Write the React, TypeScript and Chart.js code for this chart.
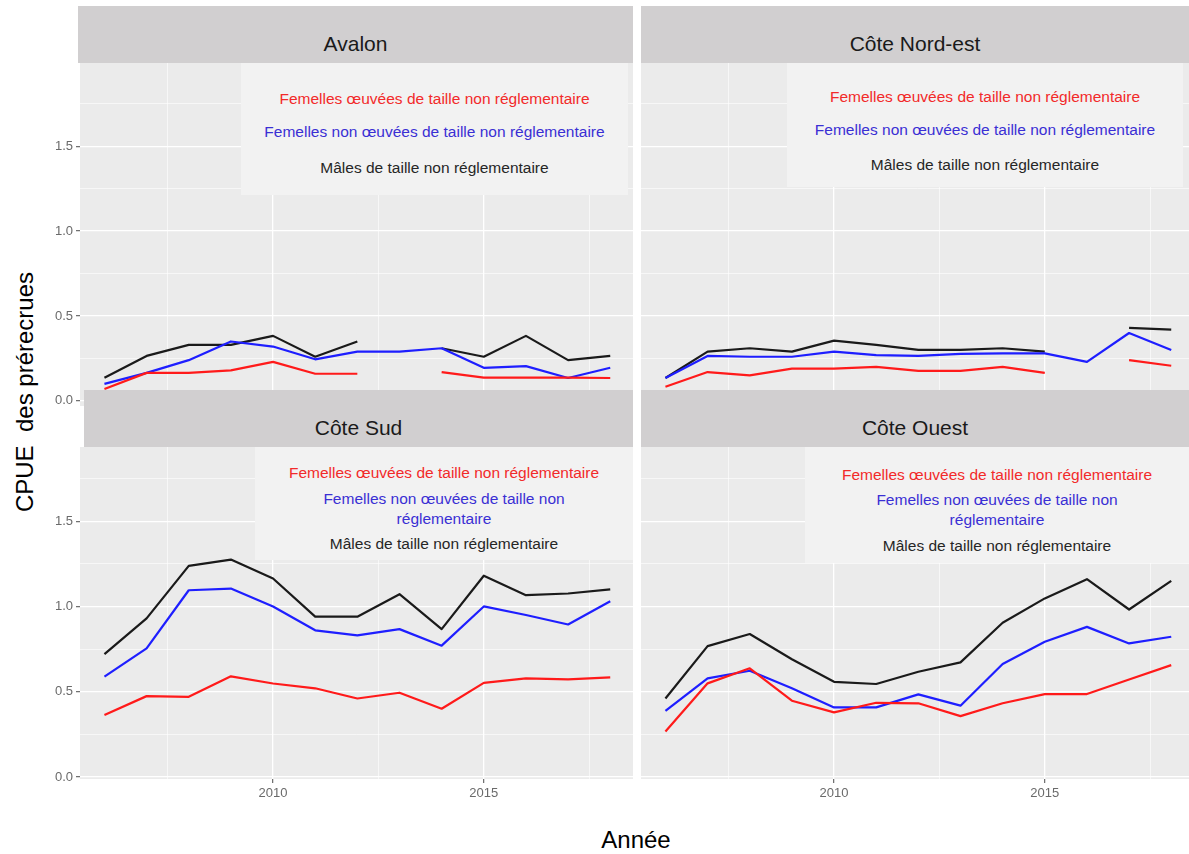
import { useEffect, useRef } from 'react'
import { Chart, registerables } from 'chart.js'

Chart.register(...registerables)

// Années et valeurs (CPUE des prérecrues par région)
const years = [2006, 2007, 2008, 2009, 2010, 2011, 2012, 2013, 2014, 2015, 2016, 2017, 2018]

const avalonRed = [0.07, 0.165, 0.165, 0.18, 0.23, 0.16, 0.16, null, 0.17, 0.137, 0.137, 0.137, 0.135]
const avalonBlue = [0.1, 0.165, 0.24, 0.35, 0.32, 0.245, 0.29, 0.29, 0.31, 0.195, 0.205, 0.135, 0.195]
const avalonBlack = [0.136, 0.265, 0.33, 0.33, 0.383, 0.26, 0.35, null, 0.31, 0.26, 0.383, 0.24, 0.265]

const nordEstRed = [0.083, 0.17, 0.15, 0.19, 0.19, 0.2, 0.177, 0.177, 0.2, 0.165, null, 0.24, 0.207]
const nordEstBlue = [0.135, 0.265, 0.26, 0.26, 0.29, 0.27, 0.265, 0.277, 0.28, 0.28, 0.23, 0.4, 0.3]
const nordEstBlack = [0.135, 0.29, 0.31, 0.29, 0.355, 0.33, 0.3, 0.3, 0.31, 0.29, null, 0.43, 0.42]

const sudRed = [0.363, 0.474, 0.47, 0.59, 0.548, 0.52, 0.46, 0.494, 0.4, 0.552, 0.578, 0.572, 0.584]
const sudBlue = [0.588, 0.754, 1.095, 1.105, 1.0, 0.86, 0.83, 0.867, 0.77, 1.0, 0.95, 0.894, 1.03]
const sudBlack = [0.72, 0.93, 1.238, 1.275, 1.164, 0.94, 0.94, 1.072, 0.867, 1.18, 1.066, 1.076, 1.1]

const ouestRed = [0.266, 0.549, 0.637, 0.447, 0.379, 0.435, 0.432, 0.357, 0.432, 0.486, 0.486, 0.572, 0.656]
const ouestBlue = [0.387, 0.578, 0.623, 0.52, 0.408, 0.408, 0.484, 0.418, 0.662, 0.793, 0.88, 0.783, 0.822]
const ouestBlack = [0.46, 0.767, 0.838, 0.69, 0.558, 0.545, 0.617, 0.672, 0.904, 1.047, 1.16, 0.982, 1.15]

const xTicks = [2007.5, 2010, 2012.5, 2015, 2017.5]
const xMajor = [2010, 2015]
const yTicks = [0, 0.25, 0.5, 0.75, 1, 1.25, 1.5, 1.75]
const yMajor = [0, 0.5, 1, 1.5]

const legendRed = 'Femelles œuvées de taille non réglementaire'
const legendBlue = 'Femelles non œuvées de taille non réglementaire'
const legendBlueWrapped = ['Femelles non œuvées de taille non', 'réglementaire']
const legendBlack = 'Mâles de taille non réglementaire'

const FONT = '"Liberation Sans", Arial, Helvetica, sans-serif'
const RED = '#FF1A1A'
const BLUE = '#1E1EFF'
const BLACK = '#1A1A1A'

const panelBg = {
  id: 'panelBg',
  beforeDraw(chart: any) {
    const { ctx, chartArea } = chart
    if (!chartArea) return
    ctx.save()
    ctx.fillStyle = '#EBEBEB'
    ctx.fillRect(chartArea.left, chartArea.top, chartArea.right - chartArea.left, chartArea.bottom - chartArea.top)
    ctx.restore()
  },
}

const zeroPad = (s: any) => {
  s.paddingLeft = 0
  s.paddingRight = 0
  s.paddingTop = 0
  s.paddingBottom = 0
}

interface PanelProps {
  left: number
  top: number
  width: number
  height: number
  red: (number | null)[]
  blue: (number | null)[]
  black: (number | null)[]
  yMin: number
  yMax: number
  showY: boolean
  showX: boolean
}

function Panel({ left, top, width, height, red, blue, black, yMin, yMax, showY, showX }: PanelProps) {
  const canvasRef = useRef<HTMLCanvasElement>(null)

  useEffect(() => {
    if (!canvasRef.current) return
    const toPts = (vals: (number | null)[]) => years.map((yr, i) => ({ x: yr, y: vals[i] }))
    const line = (data: any, color: string) => ({
      data, borderColor: color, borderWidth: 2.2, pointRadius: 0, spanGaps: false,
      borderJoinStyle: 'round', tension: 0,
    })
    const tickFont = { family: FONT, size: 13 }
    const chart = new Chart(canvasRef.current, {
      type: 'line',
      data: { datasets: [line(toPts(red), RED), line(toPts(blue), BLUE), line(toPts(black), BLACK)] },
      options: {
        animation: false,
        responsive: true,
        maintainAspectRatio: false,
        layout: { padding: 0 },
        plugins: { legend: { display: false }, tooltip: { enabled: false } },
        scales: {
          x: {
            type: 'linear', min: 2005.42, max: 2018.54,
            afterBuildTicks: (s: any) => { s.ticks = xTicks.map(v => ({ value: v })) },
            ticks: {
              display: showX, autoSkip: false, maxRotation: 0, padding: 3, color: '#6A6A6A', font: tickFont,
              callback: (v: any) => (xMajor.includes(v) ? String(v) : ''),
            },
            grid: {
              color: '#FFFFFF',
              lineWidth: (c: any) => (xMajor.includes(c.tick?.value) ? 1.3 : 0.6),
              drawTicks: showX, tickLength: 4, tickWidth: 1.2,
              tickColor: (c: any) => (xMajor.includes(c.tick?.value) ? '#6A6A6A' : 'rgba(0,0,0,0)'),
            },
            border: { display: false },
            afterFit: (s: any) => { s.height = showX ? 30 : 0; zeroPad(s) },
          },
          y: {
            type: 'linear', min: yMin, max: yMax,
            afterBuildTicks: (s: any) => { s.ticks = yTicks.map(v => ({ value: v })) },
            ticks: {
              display: showY, autoSkip: false, padding: 3, color: '#6A6A6A', font: tickFont,
              callback: (v: any) => (yMajor.includes(v) ? Number(v).toFixed(1) : ''),
            },
            grid: {
              color: '#FFFFFF',
              lineWidth: (c: any) => (yMajor.includes(c.tick?.value) ? 1.3 : 0.6),
              drawTicks: showY, tickLength: 4, tickWidth: 1.2,
              tickColor: (c: any) => (yMajor.includes(c.tick?.value) ? '#6A6A6A' : 'rgba(0,0,0,0)'),
            },
            border: { display: false },
            afterFit: (s: any) => { s.width = showY ? 80 : 0; zeroPad(s) },
          },
        },
      },
      plugins: [panelBg],
    } as any)
    return () => chart.destroy()
  }, [])

  return (
    <div style={{ position: 'absolute', left, top, width, height, zIndex: 1 }}>
      <canvas ref={canvasRef} />
    </div>
  )
}

function Strip({ left, top, width, label }: { left: number; top: number; width: number; label: string }) {
  return (
    <div style={{ position: 'absolute', left, top, width, height: 57, background: '#D1CFD0', zIndex: 3 }}>
      <div style={{ position: 'absolute', left: 0, right: 0, top: 26, textAlign: 'center', fontSize: 21, lineHeight: '24px', color: '#1A1A1A' }}>
        {label}
      </div>
    </div>
  )
}

function LegendBox({ left, top, width, height, lines }: { left: number; top: number; width: number; height: number; lines: { text: string; color: string; y: number }[] }) {
  return (
    <div style={{ position: 'absolute', left, top, width, height, background: '#F2F2F2', zIndex: 2 }}>
      {lines.map((l, i) => (
        <div key={i} style={{ position: 'absolute', left: -20, right: -20, top: l.y - top - 10, lineHeight: '20px', textAlign: 'center', fontSize: 15.5, color: l.color, whiteSpace: 'nowrap' }}>
          {l.text}
        </div>
      ))}
    </div>
  )
}

export default function App() {
  const redText = '#F22A2A'
  const blueText = '#3A2FD4'
  const blackText = '#262626'
  return (
    <div style={{ position: 'absolute', left: 0, top: 0, width: 1189, height: 854, overflow: 'hidden', background: '#fff', fontFamily: FONT }}>
      <Panel left={0} top={63} width={633} height={343} red={avalonRed} blue={avalonBlue} black={avalonBlack} yMin={-0.03} yMax={1.99} showY showX={false} />
      <Panel left={641} top={63} width={553} height={343} red={nordEstRed} blue={nordEstBlue} black={nordEstBlack} yMin={-0.03} yMax={1.99} showY={false} showX={false} />
      <Panel left={0} top={447} width={633} height={362} red={sudRed} blue={sudBlue} black={sudBlack} yMin={-0.012} yMax={1.935} showY showX />
      <Panel left={641} top={447} width={553} height={362} red={ouestRed} blue={ouestBlue} black={ouestBlack} yMin={-0.012} yMax={1.935} showY={false} showX />

      <LegendBox left={241} top={63} width={387} height={132} lines={[
        { text: legendRed, color: redText, y: 99 },
        { text: legendBlue, color: blueText, y: 132 },
        { text: legendBlack, color: blackText, y: 168 },
      ]} />
      <LegendBox left={787} top={63} width={396} height={124} lines={[
        { text: legendRed, color: redText, y: 97 },
        { text: legendBlue, color: blueText, y: 130 },
        { text: legendBlack, color: blackText, y: 165 },
      ]} />
      <LegendBox left={255} top={447} width={378} height={113} lines={[
        { text: legendRed, color: redText, y: 473 },
        { text: legendBlueWrapped[0], color: blueText, y: 499 },
        { text: legendBlueWrapped[1], color: blueText, y: 519 },
        { text: legendBlack, color: blackText, y: 544 },
      ]} />
      <LegendBox left={805} top={447} width={384} height={116} lines={[
        { text: legendRed, color: redText, y: 475 },
        { text: legendBlueWrapped[0], color: blueText, y: 500 },
        { text: legendBlueWrapped[1], color: blueText, y: 520 },
        { text: legendBlack, color: blackText, y: 546 },
      ]} />

      <Strip left={78} top={6} width={555} label="Avalon" />
      <Strip left={641} top={6} width={548} label="Côte Nord-est" />
      <Strip left={84} top={390} width={549} label="Côte Sud" />
      <Strip left={641} top={390} width={548} label="Côte Ouest" />

      <div style={{ position: 'absolute', left: 25, top: 392, transform: 'translate(-50%, -50%) rotate(-90deg)', fontSize: 24, whiteSpace: 'pre', color: '#000' }}>
        {'CPUE  des prérecrues'}
      </div>
      <div style={{ position: 'absolute', left: 636, top: 840, transform: 'translate(-50%, -50%)', fontSize: 24, whiteSpace: 'pre', color: '#000' }}>
        Année
      </div>
    </div>
  )
}
